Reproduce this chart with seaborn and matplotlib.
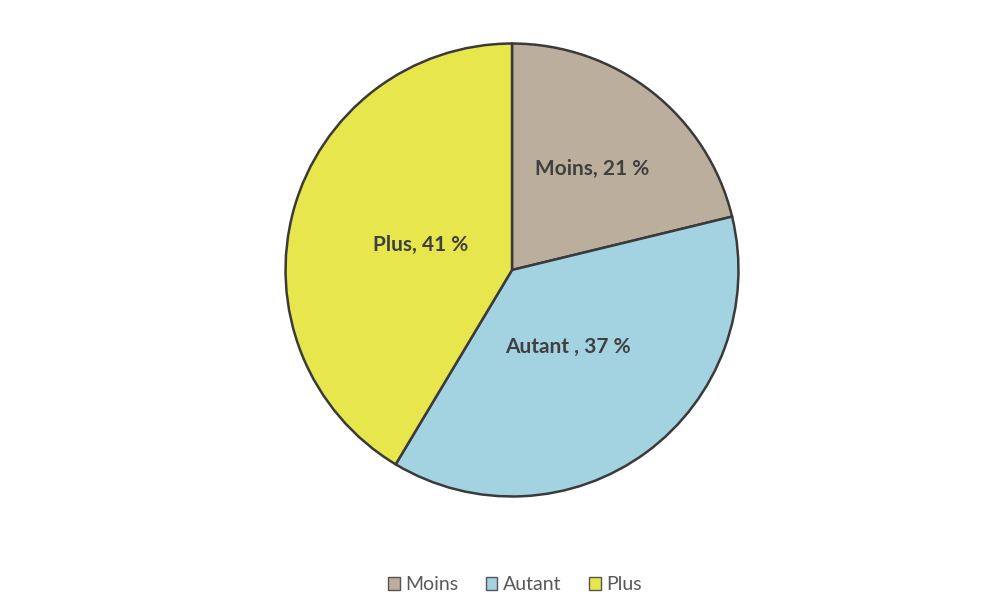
import numpy as np
import matplotlib
matplotlib.use("Agg")
import matplotlib.pyplot as plt
import seaborn as sns
from matplotlib.patches import Patch

categories = ["Moins", "Autant", "Plus"]
values = [21, 37, 41]
labels = ["Moins, 21 %", "Autant , 37 %", "Plus, 41 %"]

colors = ["#bcae9d", "#a3d3e1", "#e7e64c"]
label_dist = [0.57, 0.42, 0.42]

sns.set_theme(style="white")
plt.rcParams['font.family'] = ['Lato', 'DejaVu Sans']

fig = plt.figure(figsize=(10, 6.14), dpi=100)
ax = fig.add_axes([(512 - 231) / 1000, (614 - 270 - 231) / 614, 462 / 1000, 462 / 614])

wedges, _ = ax.pie(values, colors=colors, startangle=90, counterclock=False,
                   radius=1.0,
                   wedgeprops=dict(edgecolor="#3a3a3a", linewidth=1.8))
ax.set_aspect("equal")
ax.set_xlim(-1.02, 1.02)
ax.set_ylim(-1.02, 1.02)

for w, lab, d in zip(wedges, labels, label_dist):
    ang = np.deg2rad((w.theta1 + w.theta2) / 2)
    ax.text(d * np.cos(ang), d * np.sin(ang), lab, ha="center", va="center",
            fontsize=15, fontweight="bold", color="#404040")

handles = [Patch(facecolor=c, edgecolor="#555555", label=n) for c, n in zip(colors, categories)]
fig.legend(handles=handles, loc="center", bbox_to_anchor=(0.515, 1 - 585 / 614),
           ncol=3, frameon=False, fontsize=14, handlelength=0.6, handleheight=0.6,
           handletextpad=0.3, columnspacing=1.4, labelcolor="#595959")

fig.savefig("out.png", dpi=100)
